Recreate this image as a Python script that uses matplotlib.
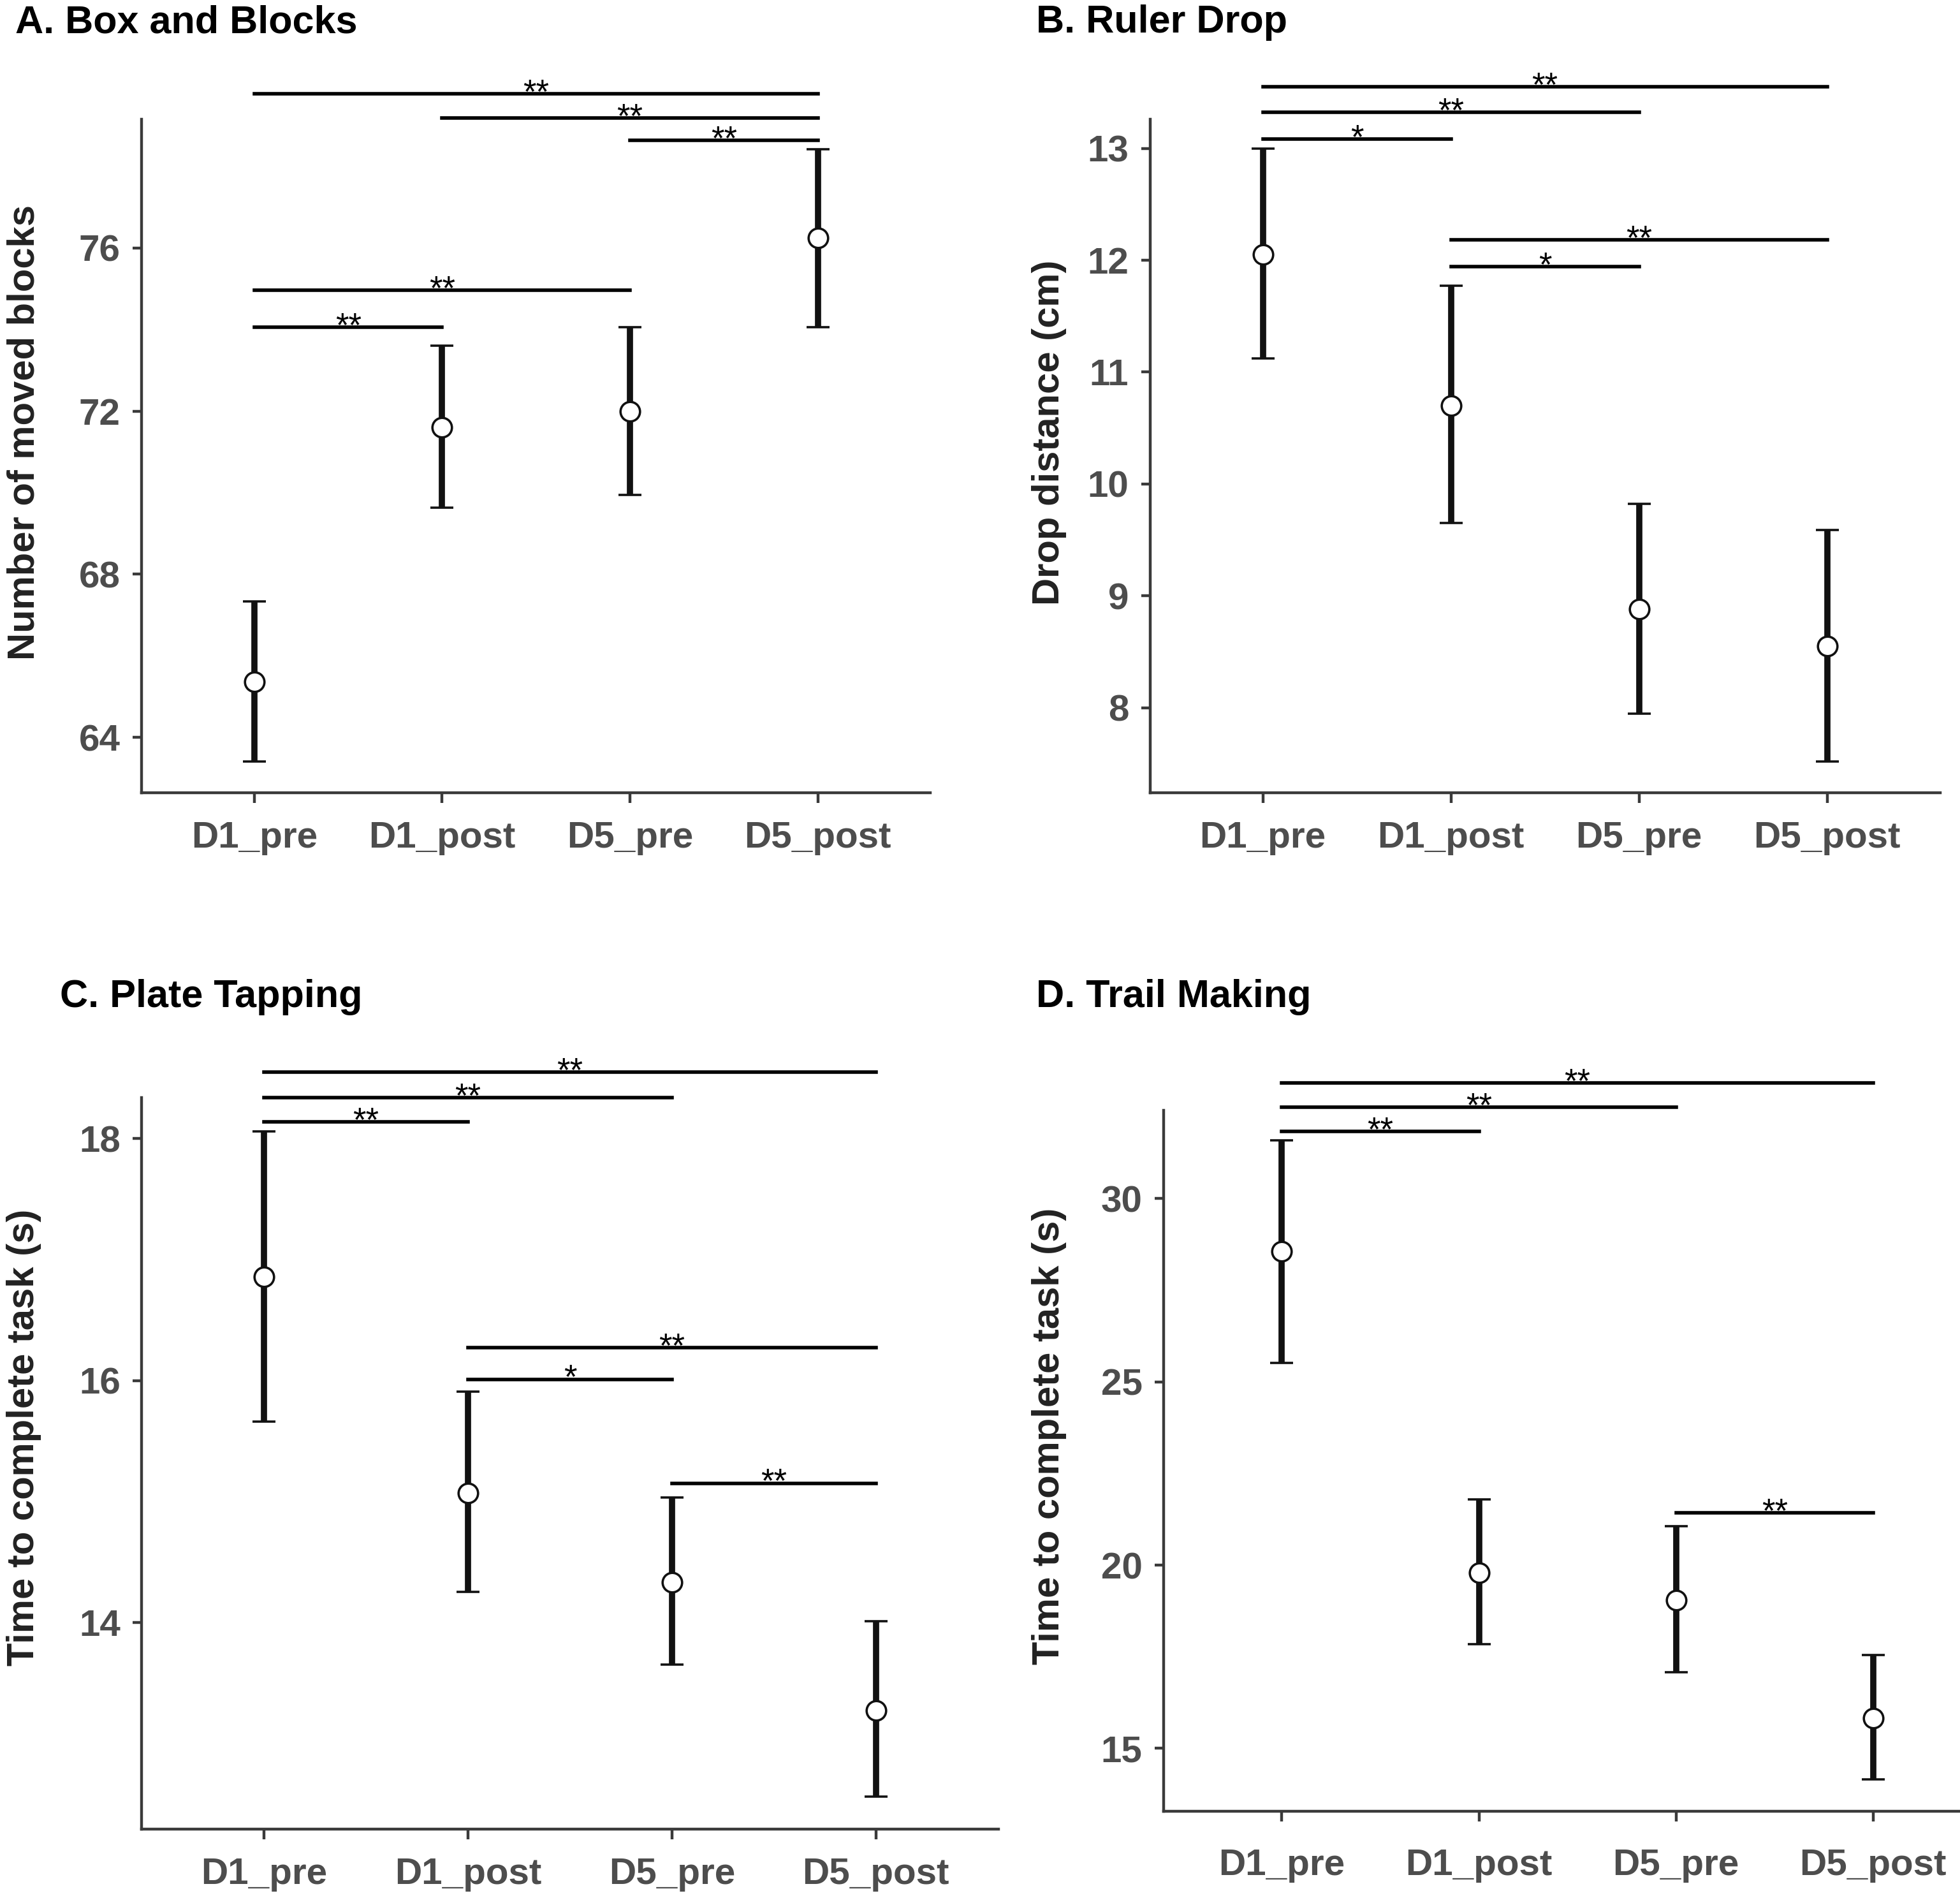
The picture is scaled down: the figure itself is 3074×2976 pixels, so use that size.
import matplotlib
matplotlib.use("Agg")
import matplotlib.pyplot as plt

plt.rcParams['font.family'] = ['Liberation Sans', 'DejaVu Sans']

# categories shared by all panels
sessions = ["D1_pre", "D1_post", "D5_pre", "D5_post"]

# A. Box and Blocks
bb_mean = [65.36, 71.61, 72.00, 76.25]
bb_low = [63.40, 69.64, 69.94, 74.06]
bb_high = [67.33, 73.60, 74.06, 78.43]
bb_sig = [(0, 3, 79.78, "**"), (1, 3, 79.19, "**"), (2, 3, 78.64, "**"),
          (0, 2, 74.96, "**"), (0, 1, 74.06, "**")]
bb_ticks = [64, 68, 72, 76]

# B. Ruler Drop
rd_mean = [12.05, 10.70, 8.88, 8.55]
rd_low = [11.12, 9.65, 7.95, 7.52]
rd_high = [13.00, 11.77, 9.82, 9.59]
rd_sig = [(0, 3, 13.55, "**"), (0, 2, 13.32, "**"), (0, 1, 13.08, "*"),
          (1, 3, 12.18, "**"), (1, 2, 11.94, "*")]
rd_ticks = [8, 9, 10, 11, 12, 13]

# C. Plate Tapping
pt_mean = [16.86, 15.07, 14.33, 13.27]
pt_low = [15.66, 14.25, 13.65, 12.56]
pt_high = [18.06, 15.91, 15.03, 14.01]
pt_sig = [(0, 3, 18.55, "**"), (0, 2, 18.34, "**"), (0, 1, 18.14, "**"),
          (1, 3, 16.27, "**"), (1, 2, 16.01, "*"), (2, 3, 15.15, "**")]
pt_ticks = [14, 16, 18]

# D. Trail Making
tm_mean = [28.56, 19.80, 19.05, 15.82]
tm_low = [25.52, 17.84, 17.08, 14.16]
tm_high = [31.59, 21.80, 21.07, 17.54]
tm_sig = [(0, 3, 33.16, "**"), (0, 2, 32.49, "**"), (0, 1, 31.84, "**"),
          (2, 3, 21.43, "**")]
tm_ticks = [15, 20, 25, 30]

AXCOL = "#3a3a3a"
TXTCOL = "#4d4d4d"


def draw_panel(ax, mean, low, high, sig, ticks, ylim, ylabel, ylab_x, xpad=10):
    x = list(range(len(sessions)))
    yerr = [[m - l for m, l in zip(mean, low)], [h - m for m, h in zip(mean, high)]]
    ax.errorbar(x, mean, yerr=yerr, fmt='o', color='#111111', ecolor='#111111',
                elinewidth=3.5, capsize=6.5, capthick=3.5, markersize=11,
                markerfacecolor='white', markeredgecolor='#111111',
                markeredgewidth=1.3, zorder=3)

    # significance brackets (drawn outside the panel like ggsignif)
    for i, j, y, lab in sig:
        ax.plot([i, j], [y, y], color='black', lw=2.0, clip_on=False, zorder=4)
        ax.annotate(lab, xy=((i + j) / 2, y), xytext=(0, -5),
                    textcoords='offset points', ha='center', va='baseline',
                    fontsize=19, color='black', annotation_clip=False)

    ax.set_xlim(-0.6, 3.6)
    ax.set_ylim(*ylim)
    ax.set_xticks(x)
    ax.set_xticklabels(sessions)
    ax.set_yticks(ticks)
    for s in ['top', 'right']:
        ax.spines[s].set_visible(False)
    for s in ['left', 'bottom']:
        ax.spines[s].set_linewidth(1.6)
        ax.spines[s].set_color(AXCOL)
    ax.tick_params(axis='y', length=5, width=1.6, color=AXCOL, pad=7,
                   labelsize=21, labelcolor=TXTCOL)
    ax.tick_params(axis='x', length=5.8, width=1.6, color=AXCOL, pad=xpad,
                   labelsize=21, labelcolor=TXTCOL)
    for t in ax.get_xticklabels() + ax.get_yticklabels():
        t.set_fontweight('bold')
    ax.set_ylabel(ylabel, fontsize=21.5, fontweight='bold', color='#222222')
    ax.yaxis.set_label_coords(ylab_x, 0.535)


fig = plt.figure(figsize=(15.37, 14.88), dpi=200)

axA = fig.add_axes([0.0723, 0.5823, 0.4024, 0.3549])
axB = fig.add_axes([0.5867, 0.5823, 0.4031, 0.3549])
axC = fig.add_axes([0.0723, 0.0364, 0.4370, 0.3853])
axD = fig.add_axes([0.5937, 0.0456, 0.4223, 0.3694])

draw_panel(axA, bb_mean, bb_low, bb_high, bb_sig, bb_ticks, (62.64, 79.16),
           "Number of moved blocks", -0.127)
draw_panel(axB, rd_mean, rd_low, rd_high, rd_sig, rd_ticks, (7.24, 13.26),
           "Drop distance (cm)", -0.105)
draw_panel(axC, pt_mean, pt_low, pt_high, pt_sig, pt_ticks, (12.29, 18.34),
           "Time to complete task (s)", -0.117)
draw_panel(axD, tm_mean, tm_low, tm_high, tm_sig, tm_ticks, (13.28, 32.41),
           "Time to complete task (s)", -0.117, xpad=15)

# panel titles
fig.text(0.0077, 0.988, "A. Box and Blocks", fontsize=22, fontweight='bold', va='center')
fig.text(0.5285, 0.988, "B. Ruler Drop", fontsize=22, fontweight='bold', va='center')
fig.text(0.0307, 0.4746, "C. Plate Tapping", fontsize=22, fontweight='bold', va='center')
fig.text(0.5285, 0.4746, "D. Trail Making", fontsize=22, fontweight='bold', va='center')

fig.savefig("out.png", dpi=200)
